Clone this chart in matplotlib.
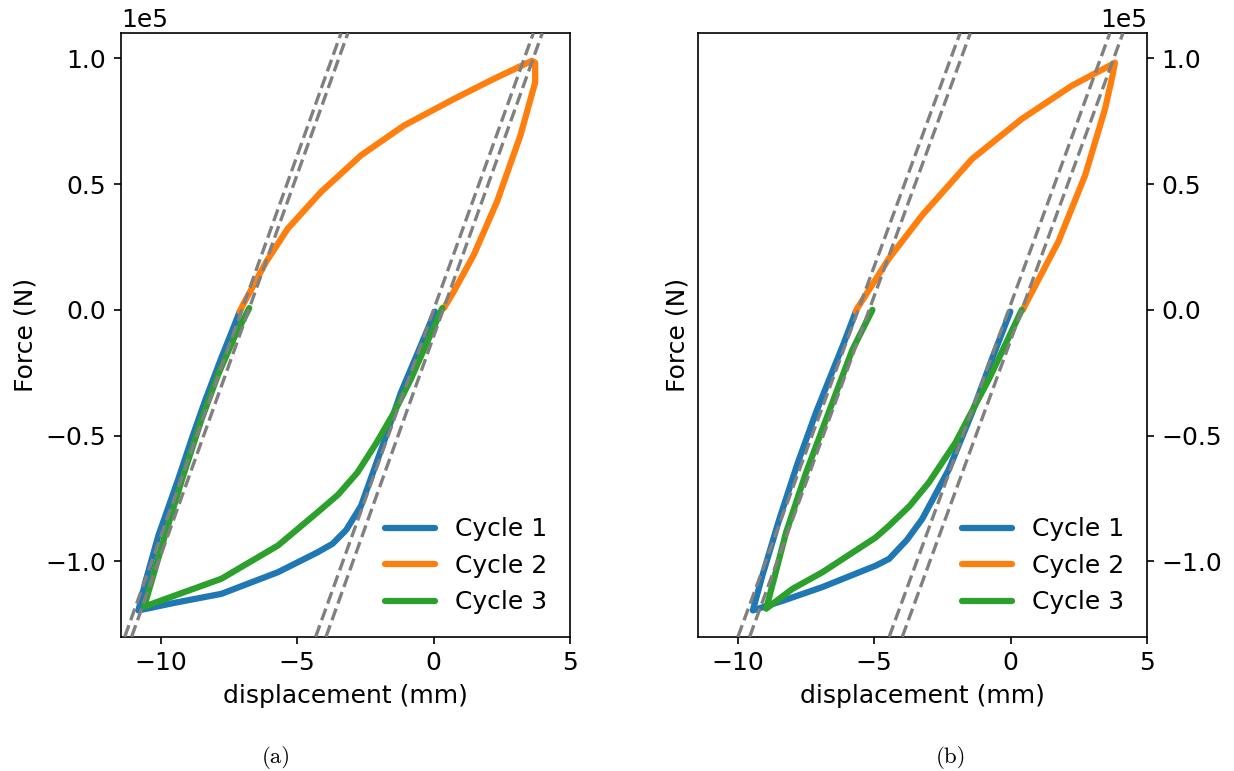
import matplotlib
matplotlib.use("Agg")
import matplotlib.pyplot as plt

# displacement in mm, force in kN (plotted in N)
# (a)
a1_x = [0.05, -0.5, -1.2, -1.9, -2.66, -3.2, -3.7, -4.25, -5.7, -7.77, -9.5, -10.81,
        -10.55, -10.08, -9.35, -8.85, -8.38, -7.77, -7.4, -7.1]
a1_f = [-0.7, -15, -33, -55, -78, -87.5, -93, -96.4, -104.3, -112.9, -116.5, -119.5,
        -108, -89.8, -67.3, -51, -36.5, -19, -9, -0.7]
a2_x = [-7.1, -6.98, -6.13, -5.34, -4.12, -2.66, -1.08, 0.74, 2.2, 3.6, 3.72, 3.72,
        3.18, 2.32, 1.47, 0.74, 0.38]
a2_f = [-0.7, 2, 19.1, 32.3, 46.9, 61.4, 73.3, 83.8, 91.8, 99, 98.3, 90.4,
        69.3, 42.9, 21.8, 7.3, 0.7]
a3_x = [0.32, -0.84, -1.45, -2.1, -2.79, -3.5, -4.25, -5.7, -7.77, -9.2, -10.6,
        -9.84, -9.2, -8.5, -7.9, -7.3, -6.75]
a3_f = [0.7, -27.7, -40.9, -53, -64.7, -73.5, -80.5, -93.7, -106.9, -112.5, -118,
        -89.8, -67, -43.6, -26, -11, 0.7]
a_x0 = [-7.02, -6.77, 0.0, 0.35]
a_k = [30.3, 30.3, 30.1, 30.3]

# (b)
b1_x = [-0.01, -0.7, -1.41, -2.26, -3.24, -3.8, -4.45, -4.94, -6.89, -8.3, -9.44,
        -9.1, -8.47, -7.8, -7.13, -6.6, -6.1, -5.67]
b1_f = [-0.7, -20, -40.9, -63.4, -83.2, -91.5, -99, -101.7, -110.2, -115.5, -119.5,
        -106, -83.2, -61, -40.9, -26.5, -13, -0.7]
b2_x = [-5.67, -5.61, -4.45, -3.24, -1.41, 0.41, 2.24, 3.7, 3.82, 3.75, 3.46,
        2.73, 1.75, 0.6, 0.45]
b2_f = [-0.7, 0.7, 20.5, 37.6, 60, 75.9, 89.1, 97.5, 98.3, 94, 79.9,
        53.5, 27.1, 3.3, 0.0]
b3_x = [0.41, -0.8, -1.4, -2.02, -2.99, -3.7, -4.45, -4.94, -6.89, -8.0, -8.95,
        -8.22, -7.5, -6.76, -5.8, -5.06]
b3_f = [0.0, -27.7, -40, -52.8, -68.6, -78, -85.8, -90.5, -104.3, -111, -118.8,
        -88.4, -65, -43.6, -16, 0.0]
b_x0 = [-5.58, -5.18, -0.07, 0.41]
b_k = [29.5, 29.7, 29.7, 29.7]

labels = ["Cycle 1", "Cycle 2", "Cycle 3"]
colors = ["#1f77b4", "#ff7f0e", "#2ca02c"]

plt.rcParams['font.size'] = 12

fig = plt.figure(figsize=(1234 / 150, 771 / 150), dpi=150)
ax1 = fig.add_axes([0.098, 0.174, 0.364, 0.783])
ax2 = fig.add_axes([0.5656, 0.174, 0.364, 0.783])

panels = [
    (ax1, [(a1_x, a1_f), (a2_x, a2_f), (a3_x, a3_f)], a_x0, a_k),
    (ax2, [(b1_x, b1_f), (b2_x, b2_f), (b3_x, b3_f)], b_x0, b_k),
]

for ax, curves, x0s, ks in panels:
    for (xs, fs), lab, c in zip(curves, labels, colors):
        ax.plot(xs, [f * 1e3 for f in fs], color=c, lw=3, label=lab,
                solid_capstyle='round', solid_joinstyle='round')
    for x0, k in zip(x0s, ks):
        ax.axline((x0, 0), slope=k * 1e3, color='gray', ls='--', lw=1.6, zorder=3)
    ax.set_xlim(-11.45, 5)
    ax.set_ylim(-1.3e5, 1.1e5)
    ax.set_xticks([-10, -5, 0, 5])
    ax.set_yticks([-1e5, -0.5e5, 0, 0.5e5, 1e5])
    ax.ticklabel_format(axis='y', style='sci', scilimits=(0, 0))
    ax.set_xlabel("displacement (mm)")
    ax.set_ylabel("Force (N)")
    ax.legend(loc='lower right', frameon=False)

ax2.yaxis.tick_right()
ax2.yaxis.set_offset_position('right')

fig.text(0.2237, 0.01, "(a)", family='cmr10', fontsize=11, ha='center', va='baseline')
fig.text(0.7707, 0.01, "(b)", family='cmr10', fontsize=11, ha='center', va='baseline')

fig.savefig("out.png", dpi=150)
